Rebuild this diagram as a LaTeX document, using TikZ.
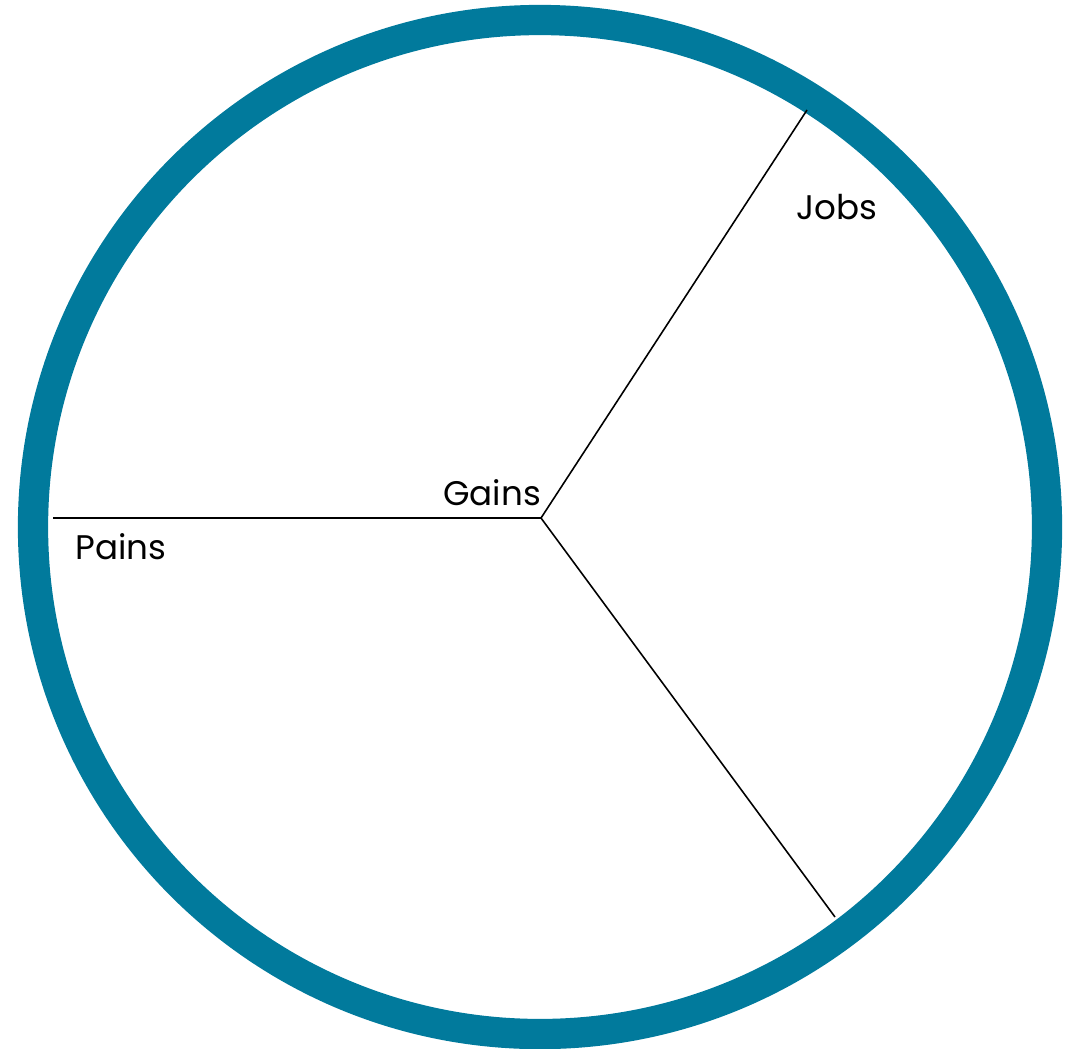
\documentclass[tikz,border=0pt]{standalone}
\usepackage{fontspec}
\setmainfont{Poppins}
\usepackage{xcolor}
\definecolor{ring}{HTML}{017A9C}
\usetikzlibrary{positioning, calc}

\begin{document}
\begin{tikzpicture}[x=0.01cm, y=-0.01cm,
    spoke/.style={black, line width=0.45pt},
    lbl/.style={font=\fontsize{9.7}{11}\selectfont, text=black, inner sep=0pt}]
  \useasboundingbox (0,0) rectangle (1071,1048);

  % ring
  \coordinate (centre) at (541,518);
  \draw[ring, line width=8.6pt] (540,527) circle (507);

  % spokes
  \coordinate (jobsend) at (807,110);
  \coordinate (lowend) at (835,917);
  \coordinate (painsend) at (53,518);
  \draw[spoke] (centre) -- (jobsend);
  \draw[spoke] (centre) -- (lowend);
  \draw[spoke] (centre) -- (painsend);

  % labels
  \node[lbl] (jobs) at (837,207) {Jobs};
  \node[lbl] (gains) at (492,493) {Gains};
  \node[lbl] (pains) at (121,547) {Pains};
\end{tikzpicture}
\end{document}
